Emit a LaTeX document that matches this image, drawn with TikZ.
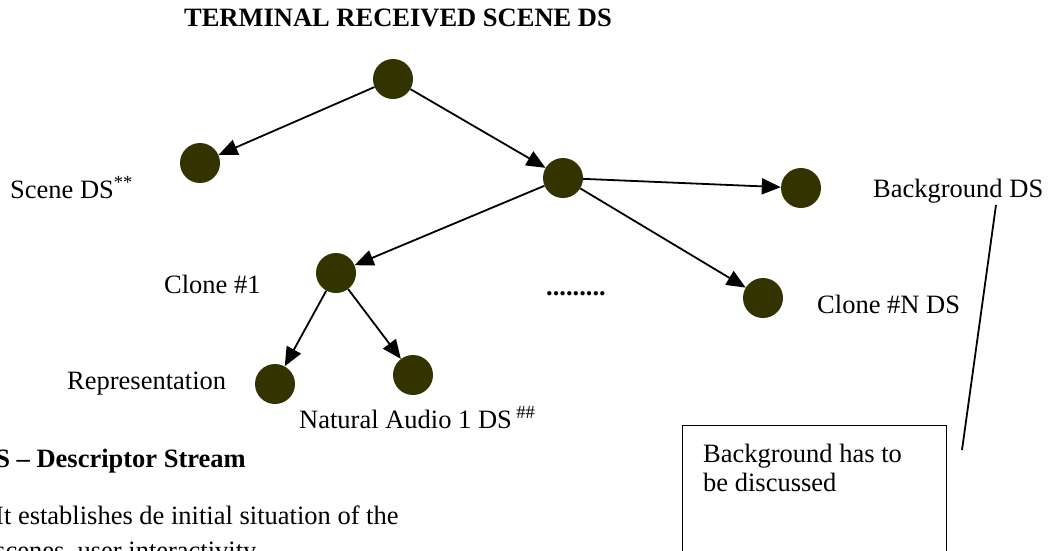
\documentclass[tikz,border=0pt]{standalone}
\usepackage{fontspec}
\setmainfont{Liberation Serif}
\usetikzlibrary{arrows.meta}
\definecolor{dsfill}{RGB}{51,51,0}
\begin{document}
\begin{tikzpicture}[x=1pt,y=-1pt,
  ds/.style={circle,fill=dsfill,minimum size=40pt,inner sep=0pt},
  lbl/.style={anchor=base west,inner sep=0pt,font=\fontsize{26.5}{30}\selectfont},
  link/.style={line width=1.8pt,-{Triangle[length=19pt,width=16pt]}},
  plain/.style={line width=1.8pt},
  ]
\useasboundingbox (0,0) rectangle (1049,550);
\clip (0,0) rectangle (1049,550);

% title
\node[lbl,anchor=base,font=\fontsize{26.5}{30}\selectfont\bfseries] (title) at (398,26) {TERMINAL RECEIVED SCENE DS};

% descriptor stream nodes
\node[ds] (root)  at (393,79)  {};
\node[ds] (scene) at (200,163) {};
\node[ds] (mid)   at (563,178) {};
\node[ds] (bg)    at (801,188) {};
\node[ds] (clN)   at (763,298) {};
\node[ds] (cl1)   at (336,273) {};
\node[ds] (rep)   at (275,384) {};
\node[ds] (aud)   at (413,375) {};

% connectors
\draw[link] (root) -- (scene);
\draw[link] (root) -- (mid);
\draw[link] (mid) -- (bg);
\draw[link] (mid) -- (clN);
\draw[link] (mid) -- (cl1);
\draw[link] (cl1) -- (rep);
\draw[link] (cl1) -- (aud);

% labels
\node[lbl] (lscene) at (10,198)  {Scene DS\textsuperscript{**}};
\node[lbl] (lbg)    at (873,197) {Background DS};
\node[lbl] (lcl1)   at (164,293) {Clone \#1};
\node[lbl,font=\fontsize{26.5}{30}\selectfont\bfseries] (ldots) at (546,295) {.........};
\node[lbl] (lclN)   at (817,313) {Clone \#N DS};
\node[lbl] (lrep)   at (67,389)  {Representation};
\node[lbl] (laud)   at (299,428) {Natural Audio 1 DS\,\textsuperscript{\#\#}};

% legend text
\node[lbl,font=\fontsize{26.5}{30}\selectfont\bfseries] (legend) at (-24,467) {DS – Descriptor Stream};
\node[lbl] (desc1) at (-5,524) {It establishes de initial situation of the};
\node[lbl] (desc2) at (-5,559) {scenes, user interactivity};

% note box and its pointer
\node[draw,line width=1.4pt,minimum width=264pt,minimum height=160pt,anchor=north west,inner sep=0pt] (note) at (682,425) {};
\node[lbl] (note1) at (703,462) {Background has to};
\node[lbl] (note2) at (703,491) {be discussed};
\coordinate (ptop) at (996,205);
\coordinate (pbot) at (962,450);
\draw[plain] (ptop) -- (pbot);
\end{tikzpicture}
\end{document}
